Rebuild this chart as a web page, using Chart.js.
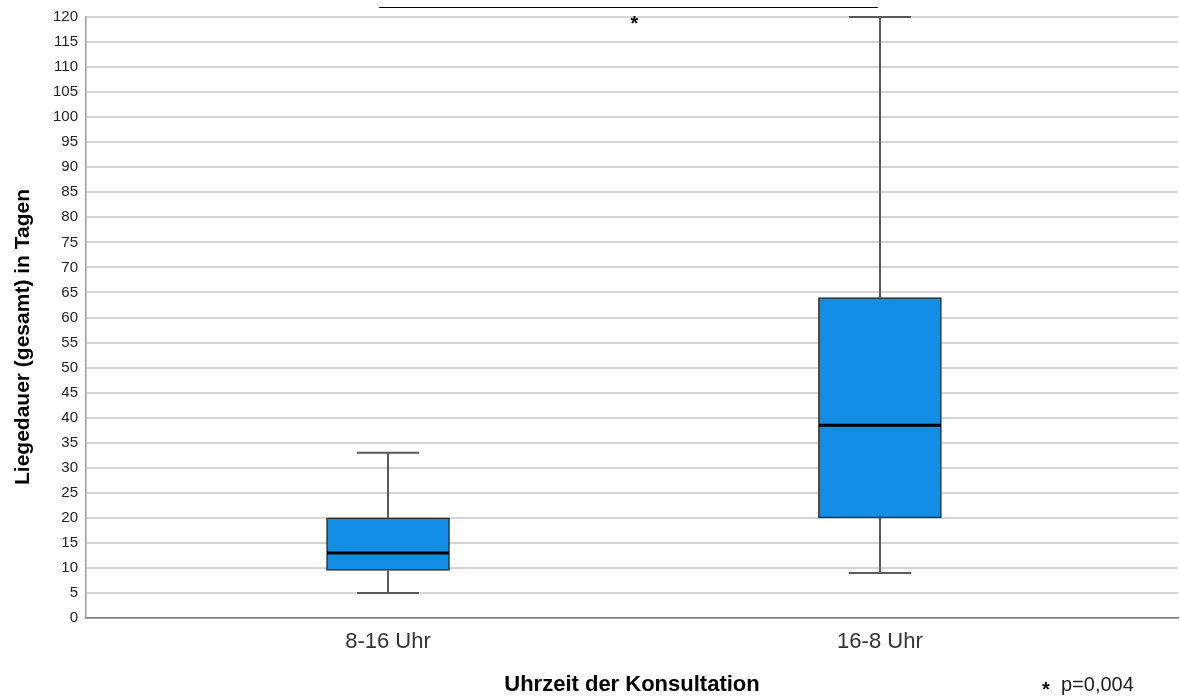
<!DOCTYPE html>
<html>
<head>
<meta charset="utf-8">
<script src="https://cdn.jsdelivr.net/npm/chart.js@4"></script>
<style>
  body { margin: 0; background: #fff; }
  #wrap { width: 1180px; height: 696px; }
</style>
</head>
<body>
<div id="wrap"><canvas id="myChart" width="1180" height="696"></canvas></div>
<script>
'use strict';

// box plot values
let categories = ['8-16 Uhr', '16-8 Uhr'];
let whiskerLow = [5, 9];
let quartile1 = [9.5, 20];
let medians = [13, 38.5];
let quartile3 = [20, 64];
let whiskerHigh = [33, 120];
let yTicksMax = 120;
let yStep = 5;

let boxColor = '#128ee4';
let fontFamily = '"Liberation Sans", Arial, sans-serif';

function getBoxData() {
  let arr = [];
  for (let i = 0; i < categories.length; i++) {
    arr.push({ x: i + 1, y: [quartile1[i], quartile3[i]] });
  }
  return arr;
}

// whiskers + median + bracket + titles + footnote
let boxExtras = {
  id: 'boxExtras',
  beforeDatasetsDraw(chart) {
    let ctx = chart.ctx;
    let xs = chart.scales.x;
    let ys = chart.scales.y;
    ctx.save();
    ctx.strokeStyle = '#5a5a5a';
    ctx.lineWidth = 2;
    for (let i = 0; i < categories.length; i++) {
      let cx = Math.round(xs.getPixelForValue(i + 1));
      let capHalf = 31;
      let yLo = ys.getPixelForValue(whiskerLow[i]);
      let yQ1 = ys.getPixelForValue(quartile1[i]);
      let yQ3 = ys.getPixelForValue(quartile3[i]);
      let yHi = ys.getPixelForValue(whiskerHigh[i]);
      ctx.beginPath();
      ctx.moveTo(cx, yLo); ctx.lineTo(cx, yQ1);
      ctx.moveTo(cx, yQ3); ctx.lineTo(cx, yHi);
      ctx.moveTo(cx - capHalf, yLo); ctx.lineTo(cx + capHalf, yLo);
      ctx.moveTo(cx - capHalf, yHi); ctx.lineTo(cx + capHalf, yHi);
      ctx.stroke();
    }
    ctx.restore();
  },
  afterDatasetsDraw(chart) {
    let ctx = chart.ctx;
    let xs = chart.scales.x;
    let ys = chart.scales.y;
    let area = chart.chartArea;
    ctx.save();
    ctx.strokeStyle = '#000';
    ctx.lineWidth = 3;
    for (let i = 0; i < categories.length; i++) {
      let cx = xs.getPixelForValue(i + 1);
      let ym = ys.getPixelForValue(medians[i]);
      ctx.beginPath();
      ctx.moveTo(cx - 61, ym);
      ctx.lineTo(cx + 61, ym);
      ctx.stroke();
    }

    // significance bracket
    let x1 = xs.getPixelForValue(1) - 9;
    let x2 = xs.getPixelForValue(2) - 2;
    ctx.lineWidth = 1;
    ctx.beginPath();
    ctx.moveTo(x1, 7.5);
    ctx.lineTo(x2, 7.5);
    ctx.stroke();
    ctx.fillStyle = '#000';
    ctx.font = 'bold 20px ' + fontFamily;
    ctx.textAlign = 'center';
    ctx.textBaseline = 'middle';
    ctx.fillText('*', (x1 + x2) / 2 + 6, 24);

    // axis titles
    ctx.font = 'bold 22px ' + fontFamily;
    ctx.fillText('Uhrzeit der Konsultation', (area.left + area.right) / 2, 685);
    ctx.save();
    ctx.translate(23, 337);
    ctx.rotate(-Math.PI / 2);
    ctx.font = 'bold 21px ' + fontFamily;
    ctx.fillText('Liegedauer (gesamt) in Tagen', 0, 0);
    ctx.restore();

    // footnote
    ctx.textAlign = 'left';
    ctx.font = 'bold 20px ' + fontFamily;
    ctx.fillText('*', 1042, 690);
    ctx.font = '20px ' + fontFamily;
    ctx.fillStyle = '#222';
    ctx.fillText('p=0,004', 1061, 685);
    ctx.restore();
  }
};

const ctx = document.getElementById('myChart');

new Chart(ctx, {
  type: 'bar',
  data: {
    datasets: [{
      data: getBoxData(),
      backgroundColor: boxColor,
      borderColor: '#2b2b2b',
      borderWidth: 1.5,
      borderSkipped: false,
      barThickness: 123
    }]
  },
  options: {
    responsive: false,
    animation: false,
    layout: { padding: { top: 14, right: 2, left: 0, bottom: 0 } },
    plugins: {
      legend: { display: false },
      tooltip: { enabled: false }
    },
    scales: {
      x: {
        type: 'linear',
        offset: false,
        min: 0.386,
        max: 2.606,
        afterFit(scale) { scale.height = 78; },
        afterBuildTicks(axis) {
          axis.ticks = categories.map((c, i) => ({ value: i + 1 }));
        },
        grid: { display: false, drawTicks: false },
        border: { display: true, color: '#7a7a7a', width: 1.5 },
        ticks: {
          padding: 11,
          color: '#333',
          font: { size: 22, family: fontFamily },
          callback: (v) => categories[v - 1] || ''
        }
      },
      y: {
        min: 0,
        max: yTicksMax,
        afterFit(scale) { scale.width = 86; },
        grid: { color: '#d4d4d4', lineWidth: 2, drawTicks: false },
        border: { display: true, color: '#9a9a9a', width: 1.5 },
        ticks: {
          stepSize: yStep,
          padding: 8,
          color: '#222',
          font: { size: 15, family: fontFamily }
        }
      }
    }
  },
  plugins: [boxExtras]
});
</script>
</body>
</html>
